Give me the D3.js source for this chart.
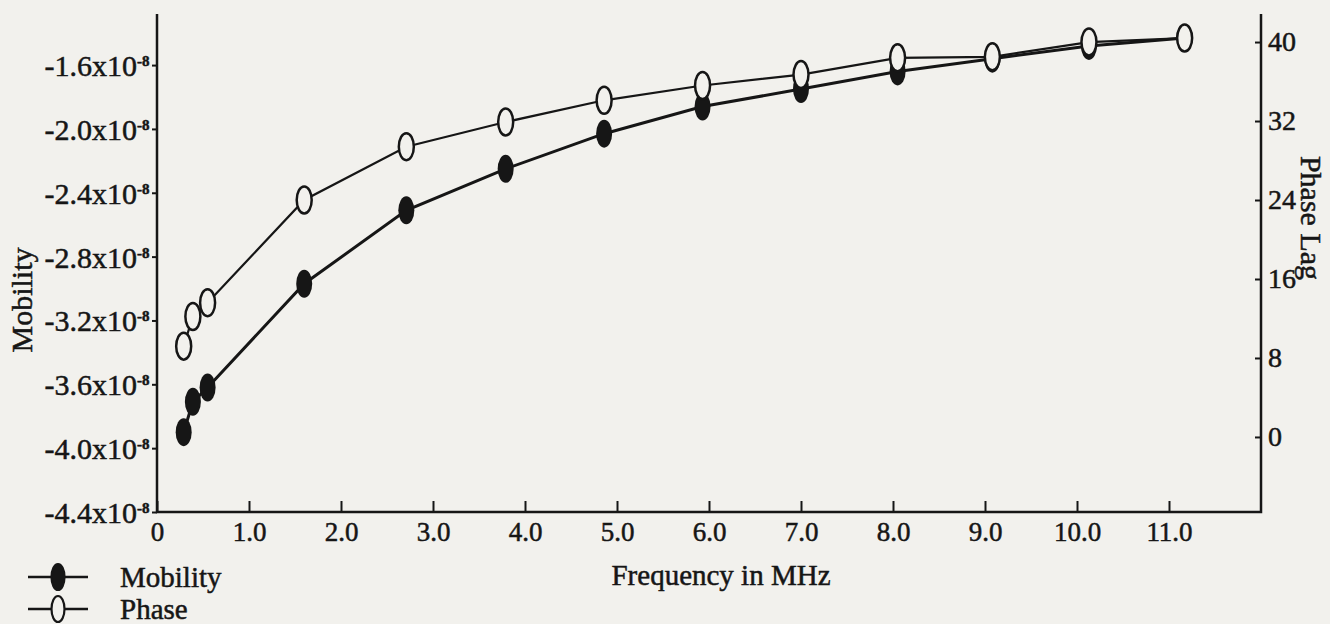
<!DOCTYPE html>
<html>
<head>
<meta charset="utf-8">
<script src="https://cdn.jsdelivr.net/npm/d3@7"></script>
<style>
  body { margin: 0; background: #f2f1ed; }
  svg { display: block; }
  /* scanned print looks heavier than plain regular weight */
  text { font-family: "Liberation Serif", "Times New Roman", serif; fill: #161616; stroke: #161616; stroke-width: 0.5px; }
</style>
</head>
<body>
<script>
// data
var frequency = [0.29, 0.39, 0.55, 1.6, 2.71, 3.79, 4.86, 5.93, 7.0, 8.05, 9.08, 10.13, 11.17];
// mobility in units of 1e-8
var mobility = [-3.90, -3.71, -3.62, -2.97, -2.51, -2.25, -2.03, -1.86, -1.75, -1.64, -1.56, -1.48, -1.43];
var phase = [9.2, 12.2, 13.6, 24.0, 29.4, 31.9, 34.1, 35.6, 36.7, 38.4, 38.5, 40.0, 40.4];

var xTicks = [0, 1, 2, 3, 4, 5, 6, 7, 8, 9, 10, 11];
var mobilityTicks = [-4.4, -4.0, -3.6, -3.2, -2.8, -2.4, -2.0, -1.6];
var phaseTicks = [0, 8, 16, 24, 32, 40];

var svgWidth = 1330;
var svgHeight = 624;

// plot box (window.top is reserved, so prefixed names)
var plotLeft = 157, plotRight = 1261, plotTop = 14, plotBottom = 512;

var svg = d3.select("body").append("svg")
  .attr("width", svgWidth)
  .attr("height", svgHeight);

// scales
var xScale = d3.scaleLinear()
  .domain([0, 12])
  .range([plotLeft, plotRight]);

var yLeft = d3.scaleLinear()
  .domain([-4.4, -1.28])
  .range([plotBottom, plotTop]);

var yRight = d3.scaleLinear()
  .domain([-7.6, 42.84])
  .range([plotBottom, plotTop]);

// frame lines (left, bottom, right)
svg.append("path")
  .attr("d", `M${plotLeft},${plotTop}V${plotBottom}H${plotRight}V${plotTop}`)
  .attr("fill", "none")
  .attr("stroke", "#161616")
  .attr("stroke-width", 2.5);

// bottom axis, ticks pointing up into the plot
var xAxis = d3.axisBottom(xScale)
  .tickValues(xTicks)
  .tickSize(-11)
  .tickPadding(10)
  .tickFormat(d => d === 0 ? "0" : d.toFixed(1));

var gx = svg.append("g")
  .attr("transform", `translate(0, ${plotBottom})`)
  .call(xAxis);
gx.select(".domain").remove();
gx.selectAll("line").attr("stroke", "#161616").attr("stroke-width", 2);
gx.selectAll("text").attr("font-size", 27).attr("font-family", null);

// left axis, short ticks outside
var gy = svg.append("g")
  .attr("transform", `translate(${plotLeft}, 0)`)
  .call(d3.axisLeft(yLeft).tickValues(mobilityTicks).tickSize(5).tickFormat(""));
gy.select(".domain").remove();
gy.selectAll("line").attr("stroke", "#161616").attr("stroke-width", 2);

// left labels with the x10^-8 superscript
var labels = svg.append("g").selectAll("g")
  .data(mobilityTicks)
  .enter()
  .append("g")
  .attr("transform", d => `translate(0, ${yLeft(d)})`);

labels.append("text")
  .attr("x", 137)
  .attr("y", 11)
  .attr("text-anchor", "end")
  .attr("font-size", 30)
  .text(d => d.toFixed(1) + "x10");

labels.append("text")
  .attr("x", 137)
  .attr("y", 1)
  .attr("font-size", 15)
  .attr("font-weight", "bold")
  .text("-8");

// right axis, ticks inside
var gr = svg.append("g")
  .attr("transform", `translate(${plotRight}, 0)`)
  .call(d3.axisRight(yRight).tickValues(phaseTicks).tickSize(-6).tickPadding(7));
gr.select(".domain").remove();
gr.selectAll("line").attr("stroke", "#161616").attr("stroke-width", 2);
gr.selectAll("text").attr("font-size", 28).attr("font-family", null).attr("dy", "0.3em");

// axis titles
svg.append("text")
  .attr("transform", "translate(32, 300) rotate(-90)")
  .attr("text-anchor", "middle")
  .attr("font-size", 30)
  .text("Mobility");

svg.append("text")
  .attr("transform", "translate(1301, 218) rotate(90)")
  .attr("text-anchor", "middle")
  .attr("font-size", 30)
  .text("Phase Lag");

svg.append("text")
  .attr("x", 721)
  .attr("y", 585)
  .attr("text-anchor", "middle")
  .attr("font-size", 29)
  .text("Frequency in MHz");

// lines
var mobilityLine = d3.line()
  .x((d, i) => xScale(frequency[i]))
  .y(d => yLeft(d));

var phaseLine = d3.line()
  .x((d, i) => xScale(frequency[i]))
  .y(d => yRight(d));

svg.append("path")
  .datum(mobility)
  .attr("d", mobilityLine)
  .attr("fill", "none")
  .attr("stroke", "#161616")
  .attr("stroke-width", 3);

svg.append("path")
  .datum(phase)
  .attr("d", phaseLine)
  .attr("fill", "none")
  .attr("stroke", "#161616")
  .attr("stroke-width", 2.2);

// markers - filled for mobility, open for phase
svg.append("g").selectAll("ellipse")
  .data(mobility)
  .enter()
  .append("ellipse")
  .attr("cx", (d, i) => xScale(frequency[i]))
  .attr("cy", d => yLeft(d))
  .attr("rx", 8)
  .attr("ry", 14)
  .attr("fill", "#161616");

svg.append("g").selectAll("ellipse")
  .data(phase)
  .enter()
  .append("ellipse")
  .attr("cx", (d, i) => xScale(frequency[i]))
  .attr("cy", d => yRight(d))
  .attr("rx", 7.5)
  .attr("ry", 13.5)
  .attr("fill", "#f2f1ed")
  .attr("stroke", "#161616")
  .attr("stroke-width", 2.5);

// legend
var legendItems = ["Mobility", "Phase"];
var legend = svg.append("g").selectAll("g")
  .data(legendItems)
  .enter()
  .append("g")
  .attr("transform", (d, i) => `translate(0, ${577 + i * 32})`);

legend.append("line")
  .attr("x1", 28)
  .attr("x2", 88)
  .attr("stroke", "#161616")
  .attr("stroke-width", 2.5);

legend.append("ellipse")
  .attr("cx", 58)
  .attr("rx", 6.5)
  .attr("ry", 13)
  .attr("fill", (d, i) => i === 0 ? "#161616" : "#f2f1ed")
  .attr("stroke", "#161616")
  .attr("stroke-width", 2.2);

legend.append("text")
  .attr("x", 120)
  .attr("y", 10)
  .attr("font-size", 29)
  .text(d => d);
</script>
</body>
</html>
